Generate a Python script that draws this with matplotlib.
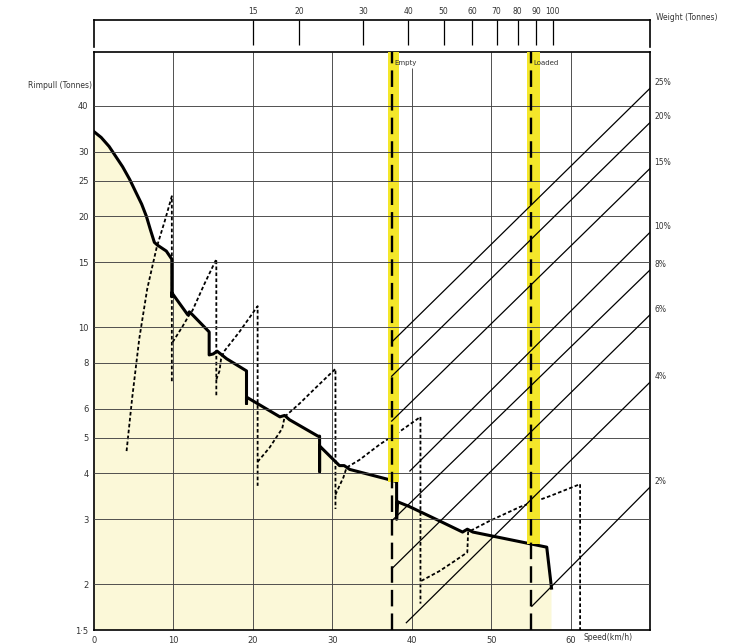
import numpy as np
import matplotlib.pyplot as plt
from matplotlib.ticker import NullLocator

plt.rcParams['font.family'] = 'DejaVu Sans'

# rimpull envelope, speed (km/h) against rimpull (tonnes)
env_speed = [0.0, 0.9, 1.9, 3.6, 4.5, 5.3, 6.0, 6.6, 7.1, 7.6, 8.0, 9.1, 9.8, 9.8, 9.8,
             11.8, 12.0, 12.4, 14.5, 14.5, 15.0, 15.5, 16.7, 19.2, 19.2, 19.2,
             23.4, 24.0, 24.6, 28.2, 28.4, 28.4, 28.4, 30.9, 31.5, 32.2,
             38.1, 38.1, 38.2, 39.7, 43.5, 46.4, 47.0, 47.7, 57.0, 57.6]
env_rimpull = [34.0, 32.8, 31.0, 27.3, 25.2, 23.2, 21.6, 20.0, 18.4, 17.0, 16.7, 16.1,
               15.3, 12.1, 12.4,
               10.8, 11.0, 10.8, 9.7, 8.4, 8.45, 8.6, 8.2, 7.6, 6.2, 6.45,
               5.7, 5.75, 5.6, 5.05, 5.05, 4.05, 4.75, 4.2, 4.2, 4.1,
               3.8, 3.0, 3.35, 3.25, 2.97, 2.77, 2.82, 2.77, 2.52, 1.95]

# single gear curves (dashed)
gear_speed = [
    [4.1, 4.8, 5.7, 6.7, 7.9, 8.9, 9.8, 9.8],
    [9.9, 11.1, 12.0, 12.4, 13.9, 15.4, 15.4],
    [15.4, 15.8, 16.0, 16.4, 18.3, 20.6, 20.6],
    [20.6, 22.1, 23.7, 24.0, 25.9, 28.1, 30.4, 30.4],
    [30.4, 30.9, 31.4, 31.8, 33.4, 36.0, 38.5, 41.1, 41.1],
    [41.2, 43.5, 45.4, 47.0, 47.1, 49.8, 53.6, 57.4, 61.2, 61.2],
]
gear_rimpull = [
    [4.6, 6.4, 9.3, 12.7, 16.5, 19.4, 22.7, 7.1],
    [9.1, 10.0, 10.8, 11.1, 13.1, 15.3, 6.5],
    [7.2, 7.6, 8.2, 8.6, 9.7, 11.4, 3.7],
    [4.3, 4.7, 5.3, 5.7, 6.2, 6.9, 7.7, 3.2],
    [3.5, 3.7, 3.9, 4.15, 4.35, 4.8, 5.2, 5.7, 1.77],
    [2.04, 2.17, 2.31, 2.44, 2.77, 2.97, 3.24, 3.47, 3.74, 1.5],
]

# grade lines, weight (tonnes) against rimpull (tonnes)
grades = [25, 20, 15, 10, 8, 6, 4, 2]
grade_w_start = [36.0, 36.0, 36.0, 40.4, 36.0, 36.0, 39.5, 87.5]
grade_r_start = [9.1, 7.35, 5.55, 4.06, 2.97, 2.2, 1.57, 1.74]
grade_w_end = [185, 185, 185, 185, 185, 185, 185, 185]
grade_r_end = [44.6, 36.0, 27.0, 18.1, 14.3, 10.8, 7.08, 3.67]

empty_w = 36.0
loaded_w = 87.0
empty_band = (35.1, 37.8)
loaded_band = (84.7, 92.0)
empty_band_bottom = 3.8
loaded_band_bottom = 2.57

speed_ticks = [0, 10, 20, 30, 40, 50, 60]
rimpull_ticks = [1.5, 2, 3, 4, 5, 6, 8, 10, 15, 20, 25, 30, 40]
rimpull_labels = ['1·5', '2', '3', '4', '5', '6', '8', '10', '15', '20', '25', '30', '40']
weight_ticks = [15, 20, 30, 40, 50, 60, 70, 80, 90, 100]

speed_lim = (0, 70)
weight_lim = (5.46, 185)
rimpull_lim = (1.5, 56)

txt = '#333333'
grid_c = '#444444'

fig = plt.figure(figsize=(7.41, 6.44), dpi=100)
ax = fig.add_axes([94 / 741, 14 / 644, 556 / 741, 578 / 644])
ax.set_yscale('log')
ax.set_xlim(*speed_lim)
ax.set_ylim(*rimpull_lim)

# cream area under the envelope
poly_x = env_speed + [env_speed[-1], 0]
poly_y = env_rimpull + [rimpull_lim[0], rimpull_lim[0]]
ax.fill(poly_x, poly_y, color='#fbf8d8', zorder=0, lw=0)

for s in speed_ticks[1:]:
    top = 50.8 if s == 40 else rimpull_lim[1]
    ax.vlines(s, rimpull_lim[0], top, color=grid_c, lw=0.65, zorder=1)

ax.plot(env_speed, env_rimpull, color='black', lw=2.2, zorder=4,
        solid_joinstyle='round')
for gs, gr in zip(gear_speed, gear_rimpull):
    ax.plot(gs, gr, color='black', lw=1.3, ls=(0, (2.0, 1.3)), zorder=3)

ax.set_xticks(speed_ticks)
ax.set_xticklabels([str(s) for s in speed_ticks], fontsize=6, color=txt)
ax.set_yticks(rimpull_ticks)
ax.set_yticklabels(rimpull_labels, fontsize=6, color=txt)
ax.yaxis.set_minor_locator(NullLocator())
ax.tick_params(length=0, pad=4)
for sp in ax.spines.values():
    sp.set_linewidth(1.2)

# weight overlay for grade lines and vehicle weights
ax2 = ax.twiny()
ax2.set_xscale('log')
ax2.set_xlim(*weight_lim)
ax2.set_xticks([])
ax2.xaxis.set_minor_locator(NullLocator())
for sp in ax2.spines.values():
    sp.set_visible(False)

ax2.fill_between(empty_band, empty_band_bottom, rimpull_lim[1],
                 color='#f4e72a', lw=0, zorder=0)
ax2.fill_between(loaded_band, loaded_band_bottom, rimpull_lim[1],
                 color='#f4e72a', lw=0, zorder=0)

for r in rimpull_ticks[1:]:
    ax2.axhline(r, color=grid_c, lw=0.65, zorder=1)

for g, w0, r0, w1, r1 in zip(grades, grade_w_start, grade_r_start,
                             grade_w_end, grade_r_end):
    ax2.plot([w0, w1], [r0, r1], color='black', lw=0.9, zorder=2)
    ax2.annotate(f'{g}%', (w1, r1), xytext=(3, 4), textcoords='offset points',
                 fontsize=5.5, color=txt, va='center', ha='left',
                 annotation_clip=False)

for w, name in [(empty_w, 'Empty'), (loaded_w, 'Loaded')]:
    ax2.axvline(w, color='black', lw=1.7, ls=(0, (7, 3)), zorder=3)
    ax2.annotate(name, (w, rimpull_lim[1]), xytext=(2, -8),
                 textcoords='offset points', fontsize=5, color=txt,
                 ha='left', va='center')

# weight scale strip on top
axw = fig.add_axes([94 / 741, 597 / 644, 556 / 741, 27 / 644])
axw.set_xscale('log')
axw.set_xlim(*weight_lim)
axw.set_ylim(0, 1)
axw.set_yticks([])
axw.set_xticks(weight_ticks)
axw.set_xticklabels([str(w) for w in weight_ticks], fontsize=5.5, color=txt)
axw.xaxis.set_minor_locator(NullLocator())
axw.tick_params(axis='x', direction='in', length=18, width=0.9,
                top=True, bottom=False, labeltop=True, labelbottom=False, pad=3)
axw.spines['bottom'].set_visible(False)
for k in ['top', 'left', 'right']:
    axw.spines[k].set_linewidth(1.2)
axw.patch.set_visible(False)

fig.text(656 / 741, 1 - 18 / 644, 'Weight (Tonnes)', fontsize=5.5, color=txt,
         ha='left', va='center')
fig.text(92 / 741, 1 - 85 / 644, 'Rimpull (Tonnes)', fontsize=5.5, color=txt,
         ha='right', va='center')
fig.text(583 / 741, 1 - 638 / 644, 'Speed(km/h)', fontsize=5.5, color=txt,
         ha='left', va='center')

fig.savefig('out.png', dpi=100)
